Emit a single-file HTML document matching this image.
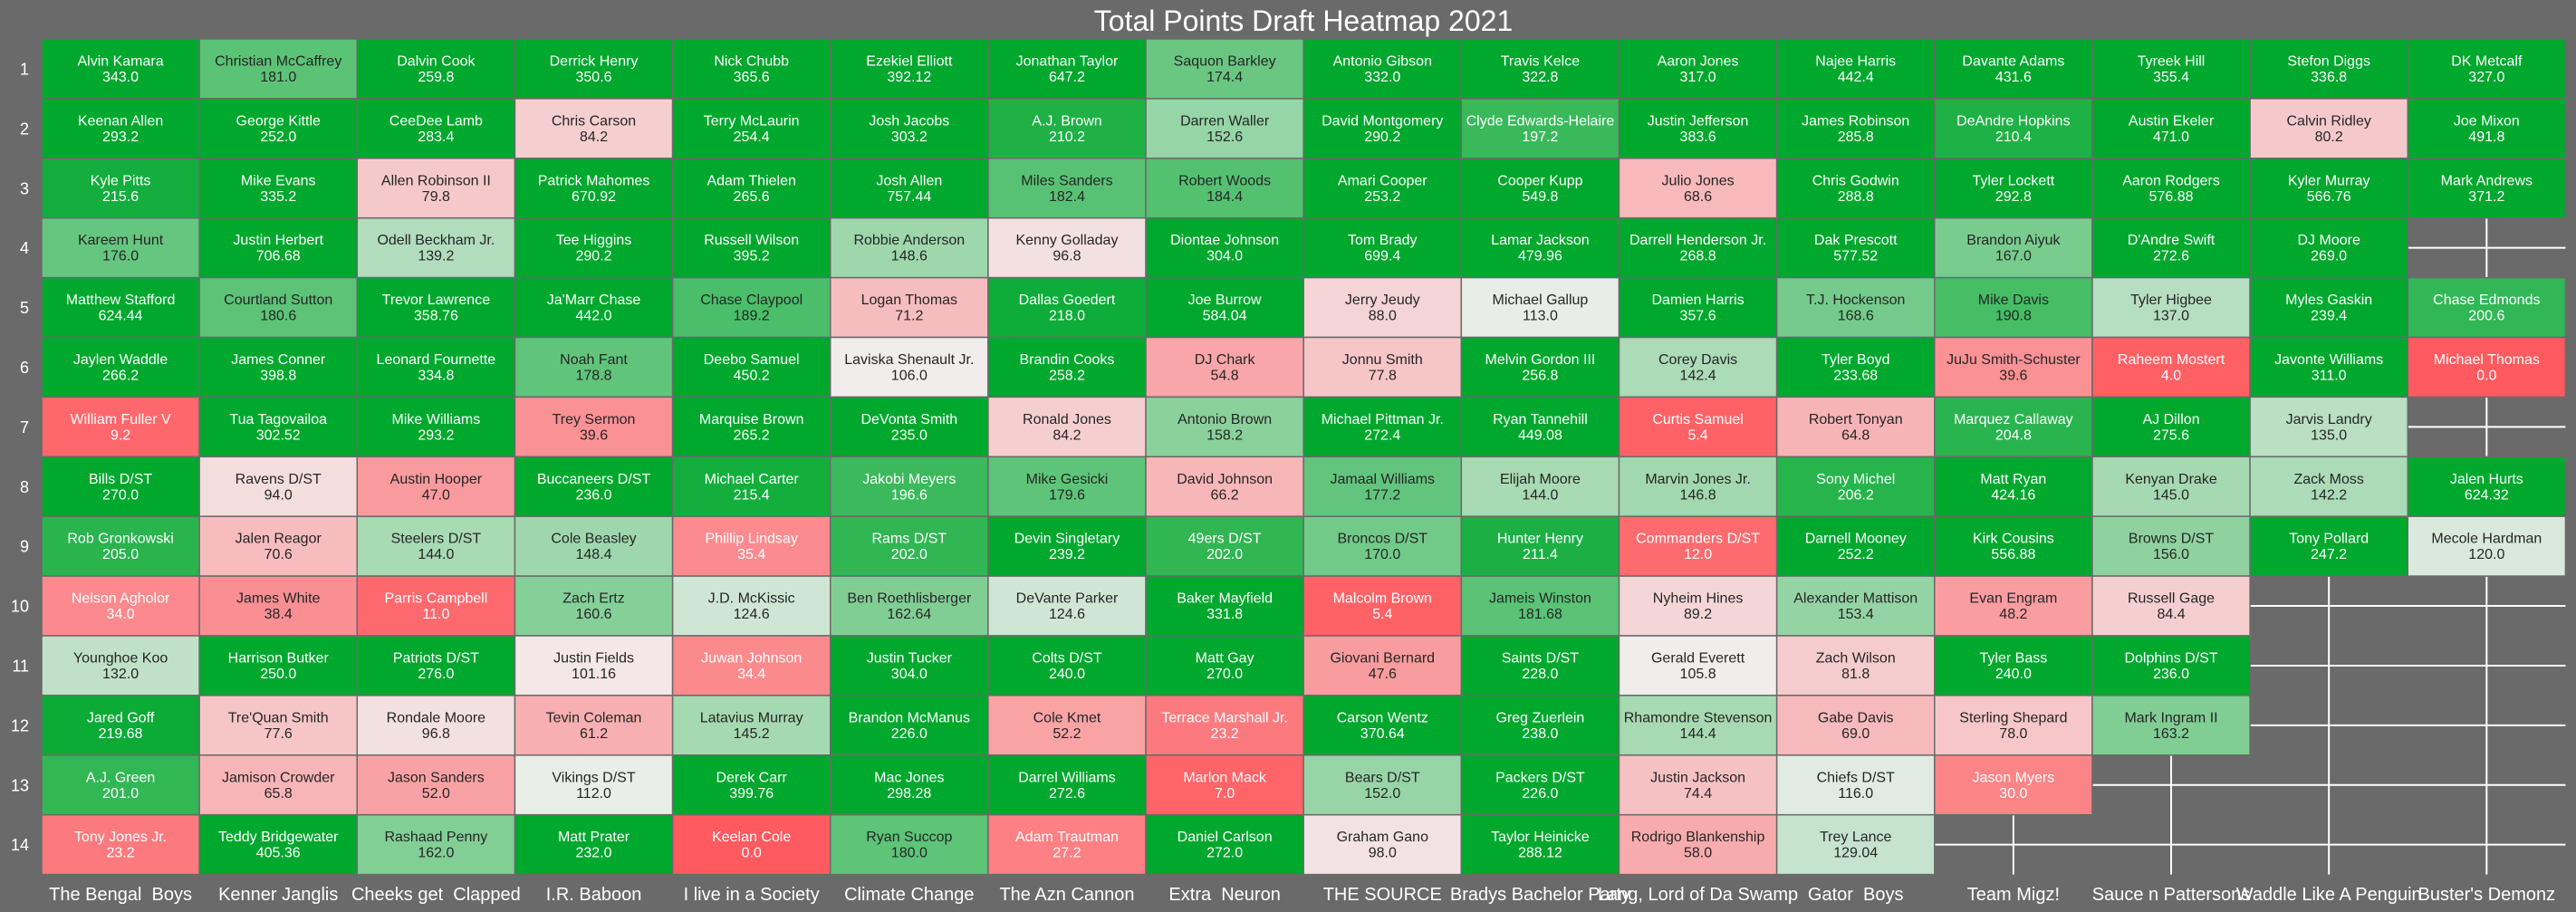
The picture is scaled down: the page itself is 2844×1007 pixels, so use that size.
<!DOCTYPE html>
<html><head><meta charset="utf-8"><title>Total Points Draft Heatmap 2021</title>
<style>
html,body{margin:0;padding:0;background:#6a6a6a;}
svg{display:block;font-family:"Liberation Sans",Arial,sans-serif;}
svg text{white-space:pre;}
</style></head>
<body>
<svg id="chart" width="2844" height="1007" viewBox="0 0 2844 1007" xmlns="http://www.w3.org/2000/svg" xml:space="preserve">
<rect x="0" y="0" width="2844" height="1007" fill="#6a6a6a"/>
<text x="1439" y="34" font-size="32" fill="#ffffff" text-anchor="middle">Total Points Draft Heatmap 2021</text>
<g id="grid"></g>
<g id="cells"></g>
<g id="ylabels"></g>
<g id="xlabels"></g>
</svg>
<script>
const teams = ["The Bengal  Boys","Kenner Janglis","Cheeks get  Clapped","I.R. Baboon","I live in a Society","Climate Change","The Azn Cannon","Extra  Neuron","THE SOURCE","Bradys Bachelor Party","Lang, Lord of Da Swamp","Gator  Boys","Team Migz!","Sauce n Pattersons","Waddle Like A Penguin","Buster's Demonz"];
const rounds = ["1","2","3","4","5","6","7","8","9","10","11","12","13","14"];
// names[column][row]
const names = [
["Alvin Kamara","Keenan Allen","Kyle Pitts","Kareem Hunt","Matthew Stafford","Jaylen Waddle","William Fuller V","Bills D/ST","Rob Gronkowski","Nelson Agholor","Younghoe Koo","Jared Goff","A.J. Green","Tony Jones Jr."],
["Christian McCaffrey","George Kittle","Mike Evans","Justin Herbert","Courtland Sutton","James Conner","Tua Tagovailoa","Ravens D/ST","Jalen Reagor","James White","Harrison Butker","Tre'Quan Smith","Jamison Crowder","Teddy Bridgewater"],
["Dalvin Cook","CeeDee Lamb","Allen Robinson II","Odell Beckham Jr.","Trevor Lawrence","Leonard Fournette","Mike Williams","Austin Hooper","Steelers D/ST","Parris Campbell","Patriots D/ST","Rondale Moore","Jason Sanders","Rashaad Penny"],
["Derrick Henry","Chris Carson","Patrick Mahomes","Tee Higgins","Ja'Marr Chase","Noah Fant","Trey Sermon","Buccaneers D/ST","Cole Beasley","Zach Ertz","Justin Fields","Tevin Coleman","Vikings D/ST","Matt Prater"],
["Nick Chubb","Terry McLaurin","Adam Thielen","Russell Wilson","Chase Claypool","Deebo Samuel","Marquise Brown","Michael Carter","Phillip Lindsay","J.D. McKissic","Juwan Johnson","Latavius Murray","Derek Carr","Keelan Cole"],
["Ezekiel Elliott","Josh Jacobs","Josh Allen","Robbie Anderson","Logan Thomas","Laviska Shenault Jr.","DeVonta Smith","Jakobi Meyers","Rams D/ST","Ben Roethlisberger","Justin Tucker","Brandon McManus","Mac Jones","Ryan Succop"],
["Jonathan Taylor","A.J. Brown","Miles Sanders","Kenny Golladay","Dallas Goedert","Brandin Cooks","Ronald Jones","Mike Gesicki","Devin Singletary","DeVante Parker","Colts D/ST","Cole Kmet","Darrel Williams","Adam Trautman"],
["Saquon Barkley","Darren Waller","Robert Woods","Diontae Johnson","Joe Burrow","DJ Chark","Antonio Brown","David Johnson","49ers D/ST","Baker Mayfield","Matt Gay","Terrace Marshall Jr.","Marlon Mack","Daniel Carlson"],
["Antonio Gibson","David Montgomery","Amari Cooper","Tom Brady","Jerry Jeudy","Jonnu Smith","Michael Pittman Jr.","Jamaal Williams","Broncos D/ST","Malcolm Brown","Giovani Bernard","Carson Wentz","Bears D/ST","Graham Gano"],
["Travis Kelce","Clyde Edwards-Helaire","Cooper Kupp","Lamar Jackson","Michael Gallup","Melvin Gordon III","Ryan Tannehill","Elijah Moore","Hunter Henry","Jameis Winston","Saints D/ST","Greg Zuerlein","Packers D/ST","Taylor Heinicke"],
["Aaron Jones","Justin Jefferson","Julio Jones","Darrell Henderson Jr.","Damien Harris","Corey Davis","Curtis Samuel","Marvin Jones Jr.","Commanders D/ST","Nyheim Hines","Gerald Everett","Rhamondre Stevenson","Justin Jackson","Rodrigo Blankenship"],
["Najee Harris","James Robinson","Chris Godwin","Dak Prescott","T.J. Hockenson","Tyler Boyd","Robert Tonyan","Sony Michel","Darnell Mooney","Alexander Mattison","Zach Wilson","Gabe Davis","Chiefs D/ST","Trey Lance"],
["Davante Adams","DeAndre Hopkins","Tyler Lockett","Brandon Aiyuk","Mike Davis","JuJu Smith-Schuster","Marquez Callaway","Matt Ryan","Kirk Cousins","Evan Engram","Tyler Bass","Sterling Shepard","Jason Myers",null],
["Tyreek Hill","Austin Ekeler","Aaron Rodgers","D'Andre Swift","Tyler Higbee","Raheem Mostert","AJ Dillon","Kenyan Drake","Browns D/ST","Russell Gage","Dolphins D/ST","Mark Ingram II",null,null],
["Stefon Diggs","Calvin Ridley","Kyler Murray","DJ Moore","Myles Gaskin","Javonte Williams","Jarvis Landry","Zack Moss","Tony Pollard",null,null,null,null,null],
["DK Metcalf","Joe Mixon","Mark Andrews",null,"Chase Edmonds","Michael Thomas",null,"Jalen Hurts","Mecole Hardman",null,null,null,null,null]
];
// printed values[column][row]
const values = [
["343.0","293.2","215.6","176.0","624.44","266.2","9.2","270.0","205.0","34.0","132.0","219.68","201.0","23.2"],
["181.0","252.0","335.2","706.68","180.6","398.8","302.52","94.0","70.6","38.4","250.0","77.6","65.8","405.36"],
["259.8","283.4","79.8","139.2","358.76","334.8","293.2","47.0","144.0","11.0","276.0","96.8","52.0","162.0"],
["350.6","84.2","670.92","290.2","442.0","178.8","39.6","236.0","148.4","160.6","101.16","61.2","112.0","232.0"],
["365.6","254.4","265.6","395.2","189.2","450.2","265.2","215.4","35.4","124.6","34.4","145.2","399.76","0.0"],
["392.12","303.2","757.44","148.6","71.2","106.0","235.0","196.6","202.0","162.64","304.0","226.0","298.28","180.0"],
["647.2","210.2","182.4","96.8","218.0","258.2","84.2","179.6","239.2","124.6","240.0","52.2","272.6","27.2"],
["174.4","152.6","184.4","304.0","584.04","54.8","158.2","66.2","202.0","331.8","270.0","23.2","7.0","272.0"],
["332.0","290.2","253.2","699.4","88.0","77.8","272.4","177.2","170.0","5.4","47.6","370.64","152.0","98.0"],
["322.8","197.2","549.8","479.96","113.0","256.8","449.08","144.0","211.4","181.68","228.0","238.0","226.0","288.12"],
["317.0","383.6","68.6","268.8","357.6","142.4","5.4","146.8","12.0","89.2","105.8","144.4","74.4","58.0"],
["442.4","285.8","288.8","577.52","168.6","233.68","64.8","206.2","252.2","153.4","81.8","69.0","116.0","129.04"],
["431.6","210.4","292.8","167.0","190.8","39.6","204.8","424.16","556.88","48.2","240.0","78.0","30.0",null],
["355.4","471.0","576.88","272.6","137.0","4.0","275.6","145.0","156.0","84.4","236.0","163.2",null,null],
["336.8","80.2","566.76","269.0","239.4","311.0","135.0","142.2","247.2",null,null,null,null,null],
["327.0","491.8","371.2",null,"200.6","0.0",null,"624.32","120.0",null,null,null,null,null]
];

const NS = "http://www.w3.org/2000/svg";
const X0 = 46, Y0 = 43, CW = 174.15, CH = 65.9;
const xPos = i => X0 + i * CW;
const yPos = j => Y0 + j * CH;
const VMIN = 0, VMID = 108, VMAX = 225;
const RED = [255, 90, 95], MID = [242, 240, 240], GRN = [0, 168, 45];
function colorFor(v) {
  let a, b, t;
  if (v <= VMID) { t = Math.max(0, (VMID - v) / (VMID - VMIN)); a = MID; b = RED; }
  else { t = Math.min(1, (v - VMID) / (VMAX - VMID)); a = MID; b = GRN; }
  const c = a.map((x, k) => Math.round(x + (b[k] - x) * t));
  return `rgb(${c[0]},${c[1]},${c[2]})`;
}
function textColor(v) { return (v < 36 || v > 195) ? "#ffffff" : "#262626"; }
function mk(tag, attrs) { const e = document.createElementNS(NS, tag); for (const k in attrs) e.setAttribute(k, attrs[k]); return e; }

const grid = document.getElementById("grid");
const W = CW * teams.length, H = CH * rounds.length;
teams.forEach((t, i) => {
  const l = mk("line", {x1: xPos(i) + CW / 2, x2: xPos(i) + CW / 2, y1: Y0, y2: Y0 + H, stroke: "#ffffff", "stroke-width": 2});
  
  
  grid.appendChild(l);
});
rounds.forEach((r, j) => {
  const l = mk("line", {x1: X0, x2: X0 + W, y1: yPos(j) + CH / 2, y2: yPos(j) + CH / 2, stroke: "#ffffff", "stroke-width": 2});
  
  
  grid.appendChild(l);
});

const cells = document.getElementById("cells");
teams.forEach((team, i) => {
  rounds.forEach((r, j) => {
    const nm = names[i][j], val = values[i][j];
    if (nm === null || val === null) return;
    const v = parseFloat(val);
    const g = mk("g", {});
    
    
    const rect = mk("rect", {x: xPos(i), y: yPos(j), width: CW, height: CH, fill: colorFor(v), stroke: "#6a6a6a", "stroke-width": 1.5});
    
    
    g.appendChild(rect);
    const cx = xPos(i) + CW / 2, cy = yPos(j) + CH / 2;
    const t1 = mk("text", {x: cx, y: cy - 3.5, "font-size": 16, fill: textColor(v), "text-anchor": "middle"});
    t1.textContent = nm;
    
    
    g.appendChild(t1);
    const t2 = mk("text", {x: cx, y: cy + 14, "font-size": 16, fill: textColor(v), "text-anchor": "middle"});
    t2.textContent = val;
    
    
    g.appendChild(t2);
    cells.appendChild(g);
  });
});

const yl = document.getElementById("ylabels");
rounds.forEach((r, j) => {
  const t = mk("text", {x: 32, y: yPos(j) + CH / 2 + 6.5, "font-size": 18, fill: "#ffffff", "text-anchor": "end"});
  t.textContent = r;
  
  
  yl.appendChild(t);
});
const xl = document.getElementById("xlabels");
teams.forEach((team, i) => {
  const t = mk("text", {x: xPos(i) + CW / 2, y: 994, "font-size": 20, fill: "#ffffff", "text-anchor": "middle"});
  t.textContent = team;
  
  
  xl.appendChild(t);
});
</script>
</body></html>
